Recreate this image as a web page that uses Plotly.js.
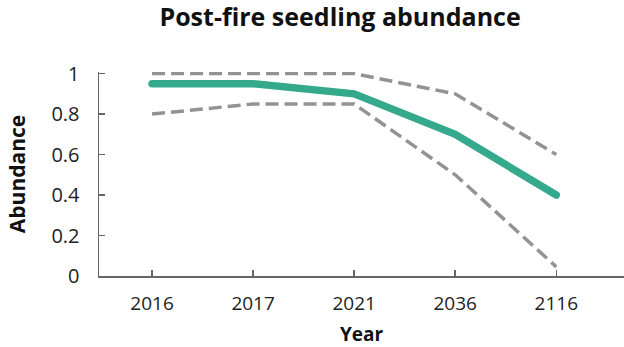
<!DOCTYPE html>
<html>
<head>
<meta charset="utf-8">
<script src="https://cdn.plot.ly/plotly-3.0.1.min.js"></script>
<style>
html,body{margin:0;padding:0;background:#fff;}
#chart{width:624px;height:347px;}
.scatterlayer .trace:last-child path.js-line{stroke-linecap:round;}
</style>
</head>
<body>
<div id="chart"></div>
<script>
const years = ["2016", "2017", "2021", "2036", "2116"];
const abundance = [0.95, 0.95, 0.90, 0.70, 0.40];
const upperBound = [1.00, 1.00, 1.00, 0.90, 0.60];
const lowerBound = [0.80, 0.85, 0.85, 0.50, 0.045];

const font = "'Open Sans', 'DejaVu Sans', sans-serif";
const traces = [
  {x: years, y: upperBound, type: "scatter", mode: "lines",
   line: {color: "#939395", width: 3.5, dash: "13px,6px"}, hoverinfo: "skip"},
  {x: years, y: lowerBound, type: "scatter", mode: "lines",
   line: {color: "#939395", width: 3.5, dash: "13px,6px"}, hoverinfo: "skip"},
  {x: years, y: abundance, type: "scatter", mode: "lines",
   line: {color: "#35a98c", width: 7.5}, hoverinfo: "skip"}
];
const layout = {
  width: 624, height: 347,
  margin: {l: 99, r: 0, t: 72, b: 71},
  paper_bgcolor: "#fff", plot_bgcolor: "#fff",
  showlegend: false,
  title: {text: "<b>Post-fire seedling abundance</b>", x: 0.545, xanchor: "center", y: 0.95, yanchor: "middle",
          font: {family: font, size: 25, color: "#111"}},
  xaxis: {type: "category", range: [-0.525, 4.67], showgrid: false, zeroline: false,
          showline: true, linecolor: "#666", linewidth: 1.5,
          ticks: "inside", ticklen: 6, tickcolor: "#666", tickwidth: 1.5,
          ticklabelstandoff: 10,
          tickfont: {family: font, size: 19, color: "#222"},
          title: {text: "<b>Year</b>", font: {family: font, size: 19, color: "#111"}, standoff: 13}},
  yaxis: {range: [0, 1.008], showgrid: false, zeroline: false,
          showline: true, linecolor: "#666", linewidth: 1.5,
          ticks: "inside", ticklen: 6, tickcolor: "#666", tickwidth: 1.5,
          ticklabelstandoff: 14,
          tickvals: [0, 0.2, 0.4, 0.6, 0.8, 1], ticktext: ["0", "0.2", "0.4", "0.6", "0.8", "1"],
          tickfont: {family: font, size: 20, color: "#222"},
          title: {text: "<b>Abundance</b>", font: {family: font, size: 21, color: "#111"}, standoff: 20}}
};
Plotly.newPlot("chart", traces, layout, {displayModeBar: false, staticPlot: true});
</script>
</body>
</html>
